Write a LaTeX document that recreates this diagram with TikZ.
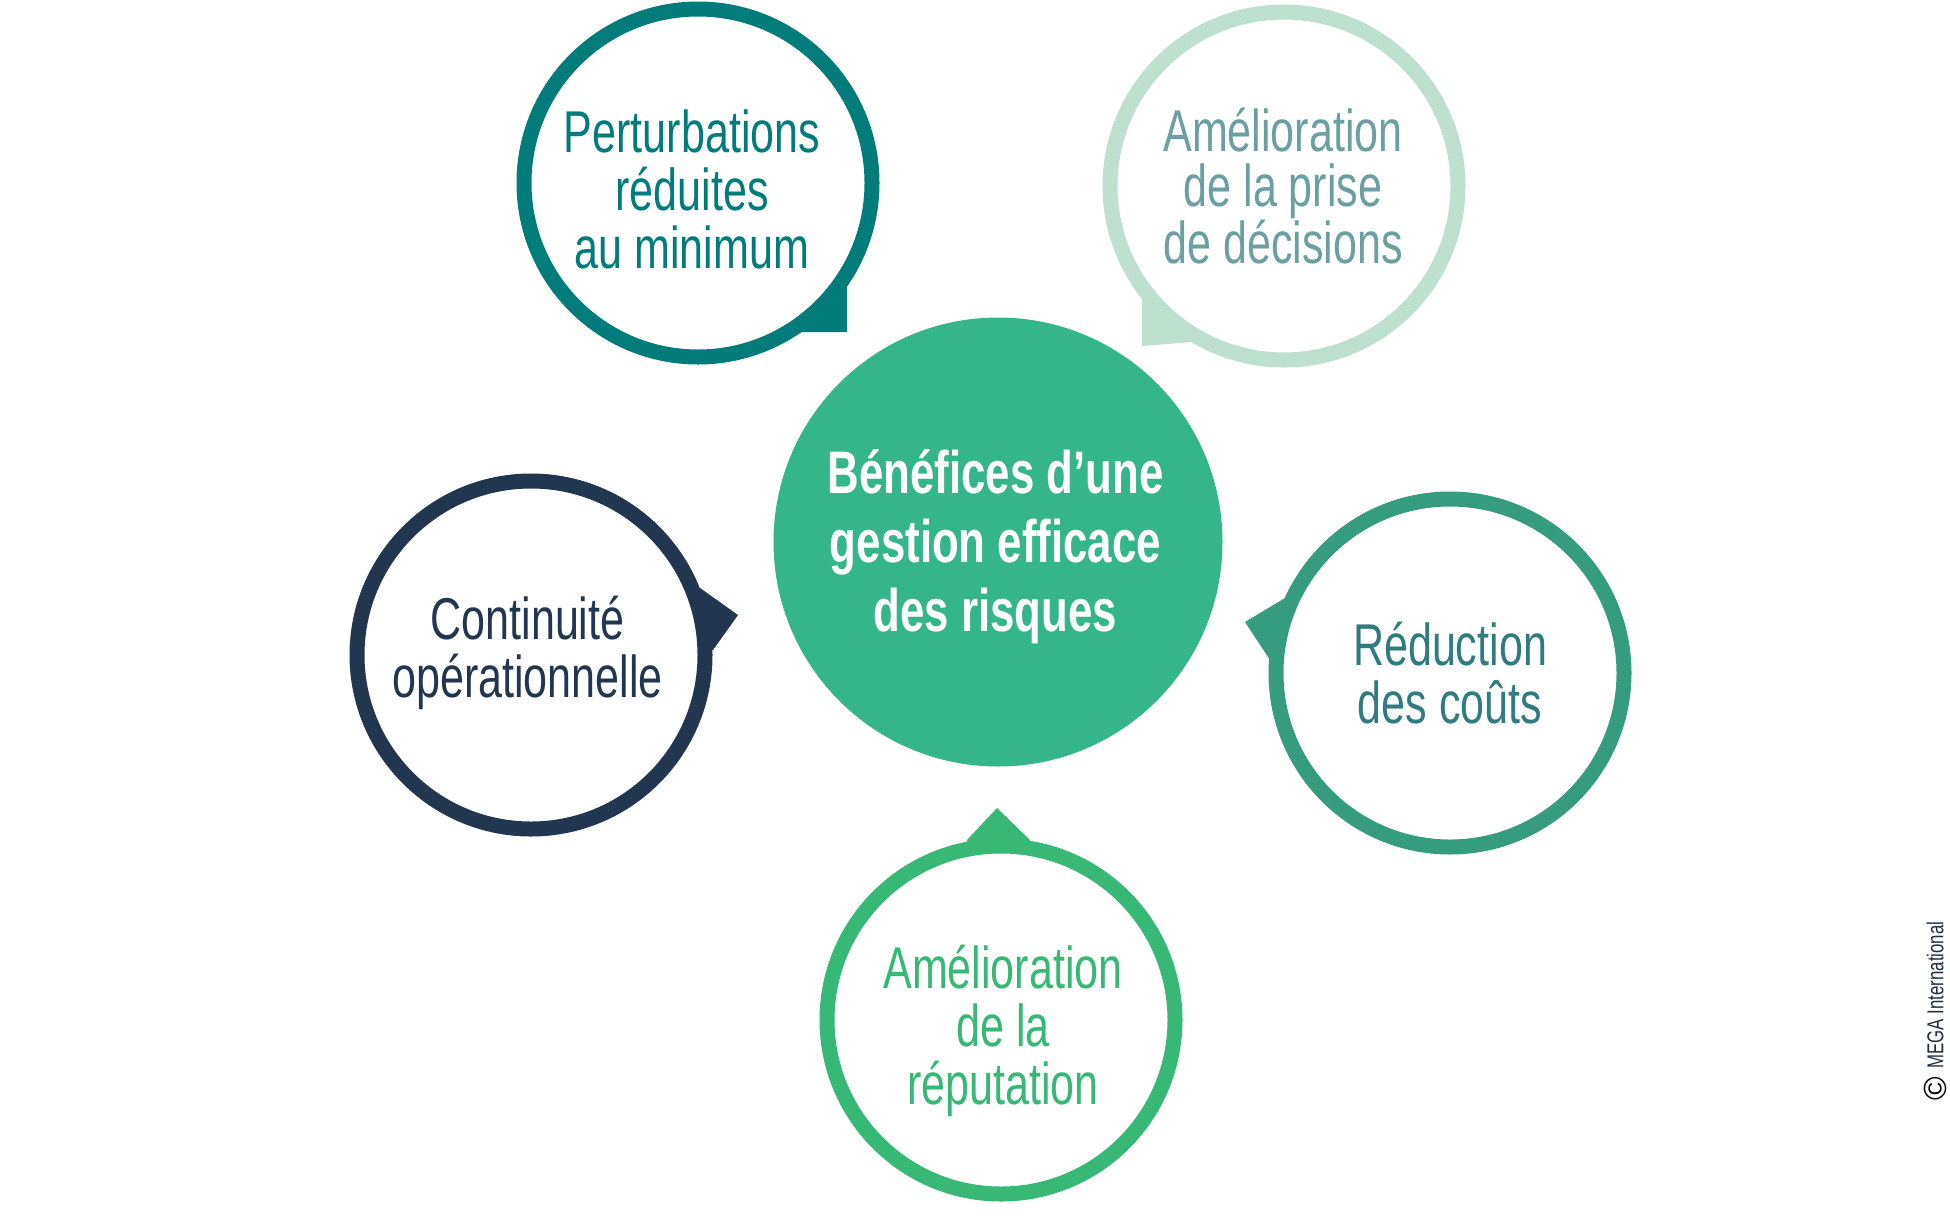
\documentclass[tikz,border=0pt]{standalone}
\usepackage{fontspec}
\setmainfont{Liberation Sans}
\newfontfamily\osw[FakeStretch=0.73]{Liberation Sans}
\usetikzlibrary{backgrounds}
\definecolor{tealA}{HTML}{027C7A}
\definecolor{mintring}{HTML}{BEE0CF}
\definecolor{minttext}{HTML}{6B9FA2}
\definecolor{centerc}{HTML}{34B58A}
\definecolor{navy}{HTML}{233650}
\definecolor{rring}{HTML}{369C80}
\definecolor{rtext}{HTML}{2F7C7E}
\definecolor{greenB}{HTML}{37B877}
\definecolor{copyc}{HTML}{1F2F40}
\begin{document}
\begin{tikzpicture}[x=1pt,y=-1pt,
  bubble/.style={circle, draw=#1, line width=15pt, fill=white, minimum size=348pt, inner sep=0pt},
  lbl/.style={align=center, text=#1, inner sep=0pt, font=\osw\fontsize{59}{58}\selectfont},
  tail/.style={fill=#1}]
\useasboundingbox (0,0) rectangle (1950,1227);
% bubbles
\node[bubble=tealA] (c1) at (698,183) {};
\node[bubble=mintring] (c2) at (1284,186) {};
\node[bubble=navy] (c4) at (531,655) {};
\node[bubble=rring] (c5) at (1450,673) {};
\node[bubble=greenB] (c6) at (1001,1020) {};
\node[circle, fill=centerc, minimum size=449pt, inner sep=0pt] (ctr) at (998,542) {};
% tails
\begin{scope}[on background layer]
\fill[white] (0,0) rectangle (1950,1227);
\fill[tail=tealA] (c1.center) -- (801,332) -- (847,332) -- (847,286) -- cycle;
\fill[tail=mintring] (c2.center) -- (1142,298) -- (1142,346) -- (1192,342) -- cycle;
\fill[tail=navy] (c4.center) -- (700,588) -- (738,615) -- (713,650) -- cycle;
\fill[tail=rring] (c5.center) -- (1285,598) -- (1245,622) -- (1270,660) -- cycle;
\fill[tail=greenB] (c6.center) -- (967,840) -- (997,808) -- (1030,840) -- cycle;
\end{scope}
% texts
\node[lbl=tealA] (t1) at (692,189.5) {Perturbations\\réduites\\au minimum};
\node[lbl=minttext, font=\osw\fontsize{59}{55}\selectfont] (t2) at (1283,186) {Amélioration\\de la prise\\de décisions};
\node[lbl=navy] (t4) at (527.5,653) {Continuité\\opérationnelle};
\node[lbl=rtext] (t5) at (1450,673) {Réduction\\des coûts};
\node[lbl=greenB] (t6) at (1003,1030.5) {Amélioration\\de la\\réputation};
\node[align=center, text=white, inner sep=0pt, font=\osw\bfseries\fontsize{60}{69}\selectfont] (tc) at (995.5,547) {Bénéfices d’une\\gestion efficace\\des risques};
% copyright
\node[rotate=90, text=black, inner sep=0pt, font=\fontsize{32}{32}\selectfont] (cpy) at (1935,1089) {©};
\node[rotate=90, text=copyc, inner sep=0pt, font=\osw\fontsize{23}{23}\selectfont] (mega) at (1935,995) {MEGA International};
\end{tikzpicture}
\end{document}
